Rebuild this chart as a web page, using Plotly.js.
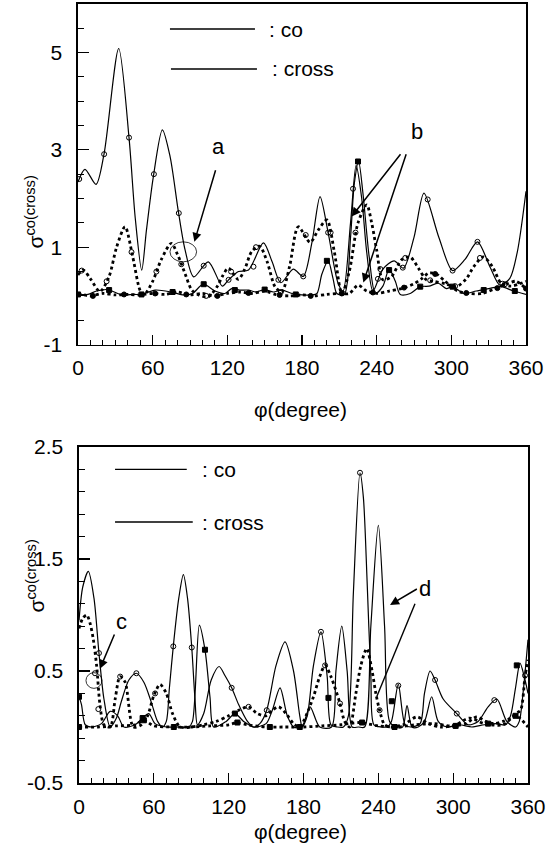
<!DOCTYPE html>
<html>
<head>
<meta charset="utf-8">
<script src="https://cdn.plot.ly/plotly-3.0.1.min.js"></script>
<style>html,body{margin:0;padding:0;background:#fff;}#chart{width:547px;height:864px;}</style>
</head>
<body>
<div id="chart"></div>
<script>
// ---------------- TOP PANEL DATA ----------------
const topCoSolidPhi = [0,5.6,14.5,20.9,32.7,41,46,51.2,55,60.5,67.8,74,80.6,86,93,104.7,116,121,129,137,149,156,163,173,181,188,194.5,201,209,213,219,223.5,228,232,237,245,254,261.5,270,278,290,301,311,321,331,339,347,353,360];
const topCoSolidVal = [2.34,2.6,2.29,2.91,5.08,3.25,1.6,0.53,1.35,2.44,3.41,2.86,1.74,0.95,0.39,0.70,0.2,0.33,0.5,0.53,1.09,0.7,0.27,0.55,0.4,1.1,2.04,1.3,0.26,0.1,1.5,2.68,2.0,0.9,0.1,0.55,0.72,0.57,1.2,2.11,1.2,0.52,0.75,1.11,0.6,0.22,0.36,0.9,2.15];

const topCrossSolidPhi = [0,8,15,24,35,45,51,62,75,85,92,100.7,110,118,123.5,130,137,143,150,157,164,172,180,188,192,196,201,205,208,214,219,222,225.5,229,234,239,245,250,255,259,267,275,282,289.5,296,301,310,320,330,340,350,360];
const topCrossSolidVal = [0.03,0.03,0.1,0.13,0.02,0.03,0.03,0.12,0.08,0.02,0.05,0.24,0.1,0.05,0.15,0.12,0.12,0.08,0.13,0.08,0.12,0.05,0.02,0.02,0.05,0.45,0.72,0.35,0.05,0.03,1.2,2.3,2.76,2.1,0.8,0.05,0.2,0.55,0.3,0.03,0.05,0.19,0.2,0.26,0.15,0.19,0.05,0.1,0.15,0.19,0.1,0.03];

const topCoDotPhi = [0,4.3,10,17.7,25,31,37.8,44,49.8,53,60,67,75,80,86,91.4,97,104.7,112,116,120.8,128.8,134,139.6,146,152,158.3,163.7,170,177,186.5,193,200,206,212,218,225,232,236,240,245,252,260,266.8,274,280,286,295,304,312,318,325.7,333,340,348,355,360];
const topCoDotVal = [0.43,0.53,0.35,0.09,0.4,1.0,1.42,0.8,0.12,0.02,0.3,0.75,1.08,0.85,0.46,0.12,0.02,-0.02,0.2,0.4,0.57,0.34,0.55,0.91,1.02,0.7,0.19,0.08,0.6,1.42,1.1,1.35,1.56,0.9,0.05,0.5,1.5,1.87,1.5,0.94,0.33,0.4,0.74,0.8,0.55,0.33,0.3,0.25,0.19,0.35,0.6,0.80,0.6,0.26,0.2,0.25,0.3];

const topCrossDotPhi = [0,10,20,30,40,50,60,70,80,90,100,110,120,130,140,150,160,170,180,190,200,210,218,225,232,240,250,260,270,276,282,288,295,305,315,325,335,345,352,360];
const topCrossDotVal = [0.05,0.0,0.05,0.02,0.03,0.02,0.05,0.03,0.08,0.02,0.05,0.0,0.05,0.08,0.05,0.1,0.02,0.0,0.02,0.0,0.03,0.05,0.05,0.22,0.1,0.05,0.1,0.15,0.25,0.35,0.47,0.45,0.3,0.1,0.05,0.05,0.15,0.25,0.3,0.15];

// markers (top)
const topCoSolidMkPhi = [1,21,41,61,81,101,121,141,161,181,201,221,241,261,281,301,321,341];
const topCoSolidMkVal = [2.4,2.91,3.25,2.5,1.7,0.62,0.33,0.6,0.33,0.4,1.3,2.2,0.35,0.58,1.98,0.52,1.11,0.25];
const topCrossSolidMkPhi = [0,25,51,76,101,126,150,175,200,225,250,275,301,326,351];
const topCrossSolidMkVal = [0.03,0.12,0.03,0.08,0.24,0.12,0.13,0.03,0.72,2.76,0.53,0.19,0.19,0.12,0.1];
const topCoDotMkPhi = [3,23,43,63,83,103,123,143,163,183,203,223,243,263,283,303,323,343];
const topCoDotMkVal = [0.52,0.3,0.9,0.5,0.65,0.0,0.5,1.0,0.08,1.25,1.3,1.3,0.55,0.78,0.32,0.2,0.78,0.24];
const topCrossDotMkPhi = [12,37,62,87,112,137,162,187,212,237,262,287,312,337,360];
const topCrossDotMkVal = [0.0,0.03,0.05,0.03,0.0,0.06,0.02,0.0,0.05,0.07,0.17,0.45,0.06,0.16,0.15];

// ---------------- BOTTOM PANEL DATA ----------------
const botCoSolidPhi = [0,3,7.5,12,16,20,25,30,34,40,46,52,58,63,67,70,72.5,75.6,80,83.7,87,90.4,93,95,100,106,112.3,117,122.4,128,134.5,139.8,145,150.5,158,165.2,172,177,179,183,188,194,199,202,207,212,216,220,225.3,228,231,234,236.5,243,247,250.5,256,261.5,266,273.5,277,281.5,285.5,292,302.9,312,320,328,335,343,350,353,356,360];
const botCoSolidVal = [0.95,1.25,1.39,1.15,0.66,0.25,0.0,0.08,0.23,0.42,0.48,0.40,0.22,0.05,0.0,0.05,0.35,0.72,1.15,1.36,1.15,0.71,0.25,0.02,0.12,0.42,0.54,0.46,0.35,0.2,0.06,0.0,0.03,0.15,0.55,0.76,0.5,0.1,0.0,0.1,0.55,0.85,0.45,0.02,0.0,0.0,0.1,1.2,2.27,2.05,1.3,0.45,0.02,0.0,0.0,0.05,0.38,0.02,0.0,0.03,0.3,0.5,0.42,0.25,0.12,0.02,0.05,0.18,0.25,0.05,0.0,0.05,0.3,0.78];

const botCrossSolidPhi = [0,2,5,10,18,25,31,36,45,51,56,61,70,80,88,91,96.5,101,105,108,118,125,132,140,150,155,161.2,167,172,178.6,185.2,193,202.5,206,210.7,215,219,224,229,234,240,245,249,254,259.5,263,267,272,277,282.8,288,295,305,315,325,335,342,346,350,353.6,357,360];
const botCrossSolidVal = [0.27,0.2,0.02,0.0,0.03,0.14,0.1,0.0,0.02,0.08,0.12,0.03,0.0,0.0,0.0,0.05,0.91,0.69,0.27,0.0,0.05,0.12,0.05,0.0,0.03,0.15,0.35,0.1,0.0,0.0,0.18,0.0,0.0,0.5,0.9,0.5,0.0,0.0,0.0,0.9,1.8,0.9,0.05,0.0,0.0,0.19,0.0,0.0,0.05,0.27,0.05,0.0,0.02,0.0,0.02,0.03,0.02,0.1,0.35,0.57,0.45,0.3];

const botCoDotPhi = [0,3,6.2,9,11.5,14.2,16.8,20,25,29,32.9,37,43.6,50,55,60,65,70,75,81,90,100,110,120,128,135.8,143,150,155,160,166,172,177,182,188,193,197.3,202,209,213,217,222,226,230.7,235,238,241,245,250,260,271,280,290,300,310,319,326,333,340,346,350,354,357.6,360];
const botCoDotVal = [0.88,0.97,1.0,0.92,0.78,0.54,0.2,0.02,0.0,0.25,0.45,0.4,0.0,0.02,0.1,0.28,0.38,0.3,0.12,0.0,0.0,0.02,0.05,0.1,0.15,0.18,0.12,0.1,0.15,0.18,0.12,0.03,0.0,0.1,0.27,0.45,0.55,0.45,0.22,0.05,0.0,0.3,0.55,0.70,0.5,0.3,0.15,0.02,0.0,0.02,0.09,0.03,0.0,0.01,0.03,0.09,0.05,0.03,0.05,0.08,0.12,0.15,0.45,0.6];

const botCrossDotPhi = [0,15,30,45,52,60,75,90,105,120,127,135,150,165,180,195,210,225,240,255,270,285,300,313,325,340,350,360];
const botCrossDotVal = [0.0,0.0,0.01,0.02,0.06,0.01,0.0,0.0,0.01,0.02,0.04,0.02,0.0,0.0,0.0,0.01,0.02,0.04,0.01,0.0,0.02,0.03,0.01,0.08,0.03,0.02,0.1,0.0];

// markers (bottom)
const botCoSolidMkPhi = [16,46,75.6,90.4,122.4,150.5,194,225.3,256,285.5,302.9,333];
const botCoSolidMkVal = [0.66,0.48,0.72,0.71,0.35,0.15,0.85,2.27,0.37,0.42,0.12,0.24];
const botCrossSolidMkPhi = [0,51,101,125,200,250.8,351];
const botCrossSolidMkVal = [0.27,0.08,0.69,0.12,0.26,0.23,0.55];
const botCoDotMkPhi = [12.8,15.5,33,61,136,197.3,209.3,241,301.5,357.6];
const botCoDotMkVal = [0.48,0.16,0.45,0.3,0.18,0.55,0.21,0.15,0.01,0.46];
const botCrossDotMkPhi = [0,52,76,127,153,177,227,253,302,328,350];
const botCrossDotMkVal = [0.0,0.06,0.0,0.04,0.0,0.0,0.04,0.0,0.01,0.03,0.1];

// tick labels
const xTickVals = [0,60,120,180,240,300,360];
const xTickText = ['0','60','120','180','240','300','360'];
const topYTickVals = [-1,1,3,5];
const topYTickText = ['-1','1','3','5'];
const botYTickVals = [-0.5,0.5,1.5,2.5];
const botYTickText = ['-0.5','0.5','1.5','2.5'];

// legend / annotation texts
const legendTexts = [': co', ': cross'];
const xTitle = 'φ(degree)';
const yTitle = 'σ<sup>co(cross)</sup>';

const FONT = 'Liberation Sans, Arial, Helvetica, sans-serif';

function lineTrace(x, y, xa, ya, dotted) {
  return {x: x, y: y, xaxis: xa, yaxis: ya, mode: 'lines', type: 'scatter',
    line: {color: '#000', width: dotted ? 2.8 : 1.2, dash: dotted ? 'dot' : 'solid', shape: 'spline', smoothing: 0.8},
    hoverinfo: 'skip', showlegend: false};
}
function markTrace(x, y, xa, ya, symbol, size) {
  return {x: x, y: y, xaxis: xa, yaxis: ya, mode: 'markers', type: 'scatter',
    marker: {color: '#000', symbol: symbol, size: size, line: {color: '#000', width: 1}},
    hoverinfo: 'skip', showlegend: false};
}

const data = [
  lineTrace(topCoSolidPhi, topCoSolidVal, 'x', 'y', false),
  lineTrace(topCrossSolidPhi, topCrossSolidVal, 'x', 'y', false),
  lineTrace(topCoDotPhi, topCoDotVal, 'x', 'y', true),
  lineTrace(topCrossDotPhi, topCrossDotVal, 'x', 'y', true),
  markTrace(topCoSolidMkPhi, topCoSolidMkVal, 'x', 'y', 'circle-open', 5),
  markTrace(topCrossSolidMkPhi, topCrossSolidMkVal, 'x', 'y', 'square', 5),
  markTrace(topCoDotMkPhi, topCoDotMkVal, 'x', 'y', 'circle-open', 5),
  markTrace(topCrossDotMkPhi, topCrossDotMkVal, 'x', 'y', 'circle', 5),
  lineTrace(botCoSolidPhi, botCoSolidVal, 'x2', 'y2', false),
  lineTrace(botCrossSolidPhi, botCrossSolidVal, 'x2', 'y2', false),
  lineTrace(botCoDotPhi, botCoDotVal, 'x2', 'y2', true),
  lineTrace(botCrossDotPhi, botCrossDotVal, 'x2', 'y2', true),
  markTrace(botCoSolidMkPhi, botCoSolidMkVal, 'x2', 'y2', 'circle-open', 5),
  markTrace(botCrossSolidMkPhi, botCrossSolidMkVal, 'x2', 'y2', 'square', 5),
  markTrace(botCoDotMkPhi, botCoDotMkVal, 'x2', 'y2', 'circle-open', 5),
  markTrace(botCrossDotMkPhi, botCrossDotMkVal, 'x2', 'y2', 'square', 5)
];

function xAxis(domain, anchor) {
  return {domain: domain, anchor: anchor, range: [0, 360], tickmode: 'array', tickvals: xTickVals, ticktext: xTickText,
    ticks: 'inside', ticklen: 10, tickwidth: 1.3, tickcolor: '#000', showline: true, linecolor: '#000', linewidth: 1.6,
    mirror: true, showgrid: false, zeroline: false, ticklabelstandoff: 4,
    tickfont: {family: FONT, size: 21, color: '#000'},
    minor: {tickmode: 'linear', tick0: 0, dtick: 10, ticks: 'inside', ticklen: 5, tickwidth: 1, tickcolor: '#000', showgrid: false},
    automargin: false, fixedrange: true};
}
function yAxis(domain, anchor, range, tv, tt, mtick0, mdtick) {
  return {domain: domain, anchor: anchor, range: range, tickmode: 'array', tickvals: tv, ticktext: tt,
    ticks: 'inside', ticklen: 11, tickwidth: 1.3, tickcolor: '#000', showline: true, linecolor: '#000', linewidth: 1.6,
    mirror: true, showgrid: false, zeroline: false, ticklabelstandoff: 10,
    tickfont: {family: FONT, size: 21, color: '#000'},
    minor: {tickmode: 'linear', tick0: mtick0, dtick: mdtick, ticks: 'inside', ticklen: 6, tickwidth: 1, tickcolor: '#000', showgrid: false},
    automargin: false, fixedrange: true};
}

const txt = (s, x, y, xref, yref, size, extra) => Object.assign({text: s, x: x, y: y, xref: xref, yref: yref, showarrow: false,
  font: {family: FONT, size: size, color: '#000'}}, extra || {});
const arrow = (x, y, ax, ay, xr, yr) => ({text: '', x: x, y: y, ax: ax, ay: ay, xref: xr, yref: yr, axref: xr, ayref: yr,
  showarrow: true, arrowhead: 2, arrowsize: 1.2, arrowwidth: 1.5, arrowcolor: '#000'});

const annotations = [
  txt(legendTexts[0], 152, 5.48, 'x', 'y', 21, {xanchor: 'left'}),
  txt(legendTexts[1], 154, 4.66, 'x', 'y', 21, {xanchor: 'left'}),
  txt(legendTexts[0], 97, 2.30, 'x2', 'y2', 21, {xanchor: 'left'}),
  txt(legendTexts[1], 97, 1.83, 'x2', 'y2', 21, {xanchor: 'left'}),
  txt('a', 112.7, 3.06, 'x', 'y', 22),
  txt('b', 272.2, 3.37, 'x', 'y', 22),
  txt('c', 34.2, 0.94, 'x2', 'y2', 22),
  txt('d', 277.5, 1.24, 'x2', 'y2', 22),
  arrow(93.5, 1.11, 110.9, 2.61, 'x', 'y'),
  arrow(219.9, 1.63, 260.1, 2.94, 'x', 'y'),
  arrow(229.3, 0.275, 264.1, 2.94, 'x', 'y'),
  arrow(16.8, 0.52, 28.9, 0.84, 'x2', 'y2'),
  arrow(249.4, 1.09, 272.1, 1.24, 'x2', 'y2'),
  txt(xTitle, 300/547, 1 - 410/864, 'paper', 'paper', 21),
  txt(xTitle, 300/547, 1 - 845/864, 'paper', 'paper', 21),
  txt(yTitle, 20/547, 1 - 174/864, 'paper', 'paper', 21, {textangle: -90}),
  txt(yTitle, 20/547, 1 - 615/864, 'paper', 'paper', 21, {textangle: -90})
];

const shapes = [
  {type: 'line', xref: 'x', yref: 'y', x0: 73.9, x1: 142.2, y0: 5.48, y1: 5.48, line: {color: '#000', width: 1.4}},
  {type: 'line', xref: 'x', yref: 'y', x0: 74.7, x1: 143.8, y0: 4.66, y1: 4.66, line: {color: '#000', width: 1.4}},
  {type: 'line', xref: 'x2', yref: 'y2', x0: 28.9, x1: 86.4, y0: 2.30, y1: 2.30, line: {color: '#000', width: 1.4}},
  {type: 'line', xref: 'x2', yref: 'y2', x0: 28.9, x1: 91.2, y0: 1.83, y1: 1.83, line: {color: '#000', width: 1.4}},
  {type: 'circle', xref: 'x', yref: 'y', x0: 73.9, x1: 95.3, y0: 0.70, y1: 1.11, line: {color: '#000', width: 0.8}},
  {type: 'circle', xref: 'x2', yref: 'y2', x0: 5.6, x1: 18.4, y0: 0.345, y1: 0.485, line: {color: '#000', width: 0.8}},
  {type: 'line', xref: 'x2', yref: 'y2', x0: 269.4, x1: 238.7, y0: 1.10, y1: 0.27, line: {color: '#000', width: 1.4}}
];

const layout = {
  width: 547, height: 864, margin: {l: 0, r: 0, t: 0, b: 0}, paper_bgcolor: '#fff', plot_bgcolor: '#fff',
  showlegend: false,
  xaxis: xAxis([78/547, 526/547], 'y'),
  yaxis: yAxis([1 - 344.6/864, 1 - 3.7/864], 'x', [-1, 6], topYTickVals, topYTickText, -1, 0.5),
  xaxis2: xAxis([79/547, 528/547], 'y2'),
  yaxis2: yAxis([1 - 783/864, 1 - 447/864], 'x2', [-0.5, 2.5], botYTickVals, botYTickText, -0.5, 0.2),
  annotations: annotations, shapes: shapes
};

Plotly.newPlot('chart', data, layout, {staticPlot: true, displayModeBar: false});
</script>
</body>
</html>
